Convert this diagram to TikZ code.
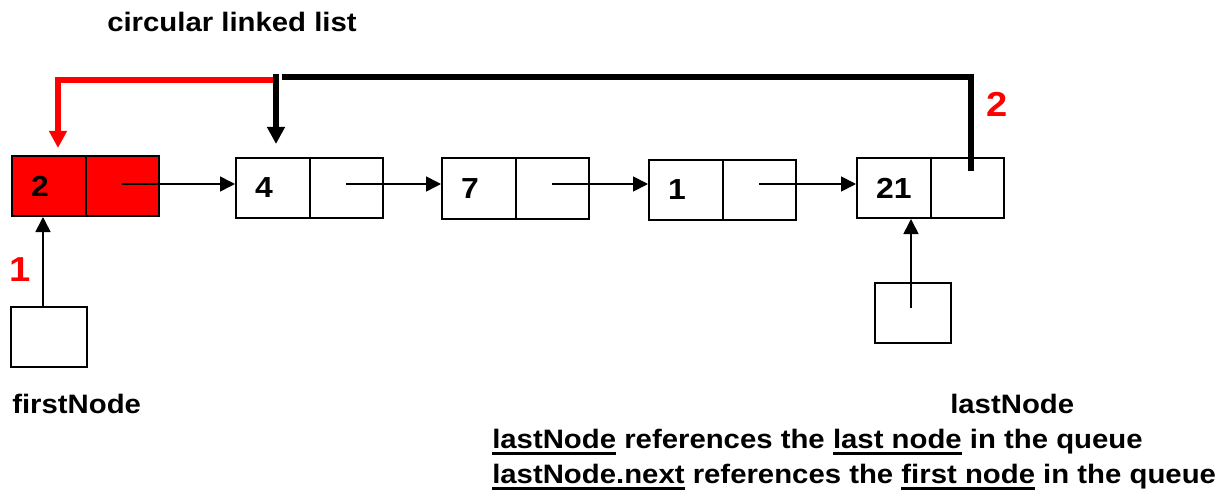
\documentclass[tikz,border=0pt]{standalone}
\usepackage{fontspec}
\setmainfont{Liberation Sans}[FakeStretch=1.1]
\usetikzlibrary{arrows.meta}
\newsavebox\ulbox
\newcommand\myul[1]{\sbox\ulbox{#1}\rlap{\rule[-5.2pt]{\wd\ulbox}{2.4pt}}\usebox\ulbox}
\begin{document}
\begin{tikzpicture}[x=0.75pt,y=-0.75pt,
  cell/.style={draw, line width=1.5pt, minimum width=55.125pt, minimum height=45pt, inner sep=0pt},
  data/.style={cell, text width=26.6pt, inner xsep=14.25pt, align=left, font=\fontsize{21.75}{24}\selectfont\bfseries},
  refbox/.style={draw, line width=1.5pt, minimum width=57pt, minimum height=45pt, inner sep=0pt},
  lbl/.style={anchor=base west, inner sep=0pt, font=\fontsize{20}{24}\selectfont\bfseries},
  rlbl/.style={text=red, inner sep=0pt, font=\fontsize{26}{30}\selectfont\bfseries},
  link/.style={line width=1.2pt, -{Triangle[length=11.25pt,width=11.25pt]}},
  heavy/.style={line width=4.5pt},
  bigarrow/.style={-{Triangle[length=12.75pt,width=12.75pt]}}
]
\useasboundingbox (0,0) rectangle (1224,499);
% list nodes
\node[data, fill=red] (n1d) at (48.75,186) {2};
\node[cell, fill=red] (n1p) at (122.25,186) {};
\node[data] (n2d) at (272.75,188) {4};
\node[cell] (n2p) at (346.25,188) {};
\node[data] (n3d) at (478.75,188.5) {7};
\node[cell] (n3p) at (552.25,188.5) {};
\node[data] (n4d) at (685.75,190) {1};
\node[cell] (n4p) at (759.25,190) {};
\node[data] (n5d) at (893.75,188) {21};
\node[cell] (n5p) at (967.25,188) {};
% reference boxes
\node[refbox] (fn) at (49,337) {};
\node[refbox] (ln) at (913,312.5) {};
% links
\coordinate (ay) at (0,184);
\draw[link] (n1p.center |- ay) -- (n2d.west |- ay);
\draw[link] (n2p.center |- ay) -- (n3d.west |- ay);
\draw[link] (n3p.center |- ay) -- (n4d.west |- ay);
\draw[link] (n4p.center |- ay) -- (n5d.west |- ay);
\coordinate (fa) at ([xshift=-4.5pt]fn.north);
\draw[link] (fa) -- (fa |- n1d.south);
\coordinate (la) at ([xshift=-1.5pt,yshift=3.75pt]ln.center);
\draw[link] (la) -- (la |- n5d.south);
% red path
\coordinate (rs) at (276,80);
\coordinate (rc) at (58,80);
\draw[heavy, red, bigarrow, shorten >=5.25pt] (rs) -- (rc) -- (rc |- n1d.north);
% black path
\coordinate (bt) at (276,74);
\draw[heavy, bigarrow, shorten >=9.75pt] (bt) -- (bt |- n2d.north);
\coordinate (bh) at (282,77);
\coordinate (be) at (971,171);
\draw[heavy] (bh) -- (bh -| be) -- (be);
% labels
\node[rlbl] (r1) at (20,270) {1};
\node[rlbl] (r2) at (997.5,104.5) {2};
\node[lbl] (title) at (107,32) {circular linked list};
\node[lbl] (fnl) at (12,413) {firstNode};
\node[lbl] (lnl) at (950,413) {lastNode};
\node[lbl] (l1) at (492,448) {\myul{lastNode} references the \myul{last node} in the queue};
\node[lbl] (l2) at (492,483) {\myul{lastNode.next} references the \myul{first node} in the queue};
\end{tikzpicture}
\end{document}
